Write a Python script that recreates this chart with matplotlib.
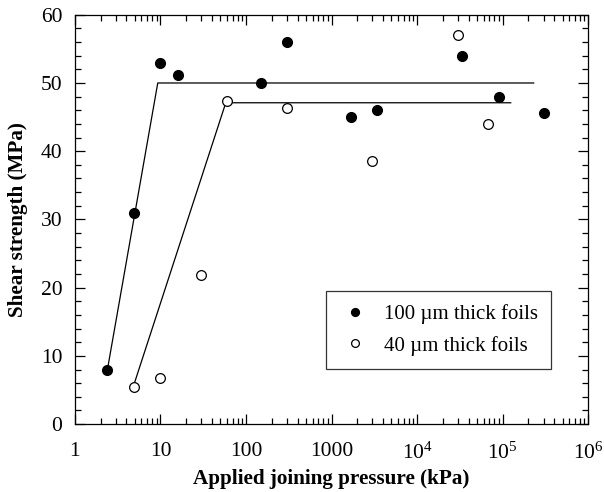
import numpy as np
import matplotlib
matplotlib.use("Agg")
import matplotlib.pyplot as plt
from matplotlib.ticker import LogLocator, FixedLocator, MultipleLocator, FuncFormatter

plt.rcParams['font.family'] = ['Liberation Serif', 'DejaVu Serif']
plt.rcParams['mathtext.fontset'] = 'custom'
plt.rcParams['mathtext.rm'] = 'Liberation Serif'
plt.rcParams['mathtext.it'] = 'Liberation Serif:italic'

# -------------------------------
# Data
# -------------------------------
p_100 = [2.4, 4.9, 9.9, 16, 150, 300, 1680, 3400, 33700, 90000, 307000]
s_100 = [8.0, 31.0, 53.0, 51.2, 50.0, 56.0, 45.0, 46.0, 54.0, 48.0, 45.6]

p_40 = [4.9, 9.9, 29.5, 59.5, 300, 3000, 30000, 67700]
s_40 = [5.5, 6.8, 21.8, 47.4, 46.3, 38.5, 57.0, 44.0]

# bilinear fits
fit_100_x = [2.4, 9.3, 230000]
fit_100_y = [8.0, 50.0, 50.0]
fit_40_x = [4.9, 58.0, 124000]
fit_40_y = [5.8, 47.1, 47.1]

x_ticks = [1, 10, 100, 1000, 1e4, 1e5, 1e6]
x_labels = ['1', '10', '100', '1000', r'$10^4$', r'$10^5$', r'$10^6$']

# -------------------------------
# Plot
# -------------------------------
fig = plt.figure(figsize=(6.04, 4.92), dpi=100)
ax = fig.add_axes([0.124, 0.138, 0.850, 0.832])

ax.plot(fit_100_x, fit_100_y, color='black', lw=0.9)
ax.plot(fit_40_x, fit_40_y, color='black', lw=0.9)

ax.plot(p_100, s_100, 'o', color='black', ms=7, ls='none',
        label='100 \u00b5m thick foils', zorder=3)
ax.plot(p_40, s_40, 'o', mfc='white', mec='black', mew=0.9, ms=7, ls='none',
        label='40 \u00b5m thick foils', zorder=3)

ax.set_xscale('log')
ax.set_xlim(1, 1e6)
ax.set_ylim(0, 60)

ax.xaxis.set_major_locator(FixedLocator(x_ticks))
ax.xaxis.set_major_formatter(FuncFormatter(lambda v, pos: x_labels[x_ticks.index(v)] if v in x_ticks else ''))
ax.xaxis.set_minor_locator(LogLocator(base=10, subs=np.arange(2, 10), numticks=20))
ax.yaxis.set_major_locator(MultipleLocator(10))
ax.yaxis.set_minor_locator(MultipleLocator(2))

ax.tick_params(which='both', direction='in', top=True, right=True, labelsize=15.5, width=0.9)
ax.tick_params(which='major', length=7)
ax.tick_params(which='minor', length=4.5)
ax.tick_params(axis='x', which='major', pad=13)
ax.tick_params(axis='y', which='major', pad=9)
for sp in ax.spines.values():
    sp.set_linewidth(0.9)

ax.set_xlabel('Applied joining pressure (kPa)', fontsize=15.2, fontweight='bold', labelpad=4)
ax.set_ylabel('Shear strength (MPa)', fontsize=15.2, fontweight='bold', labelpad=9)

leg = ax.legend(loc='lower right', bbox_to_anchor=(0.928, 0.134), borderaxespad=0,
                fontsize=15, frameon=True, fancybox=False, edgecolor='black',
                markerscale=0.8, handletextpad=0.7, handlelength=1.4,
                borderpad=0.65, labelspacing=0.55)
leg.get_frame().set_linewidth(0.9)

fig.savefig('out.png', dpi=100)
